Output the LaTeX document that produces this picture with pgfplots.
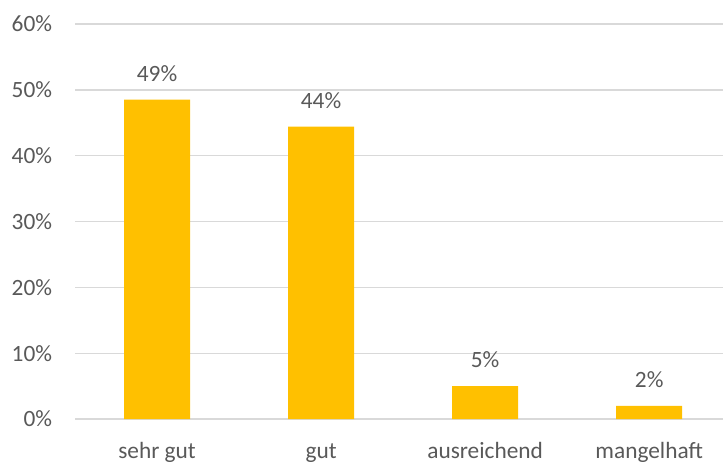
\documentclass[border=0pt]{standalone}
\usepackage{fontspec}
\setmainfont{Carlito}
\usepackage{pgfplots}
\pgfplotsset{compat=1.18}
\definecolor{barc}{HTML}{FFC000}
\definecolor{txt}{HTML}{595959}
\definecolor{gridc}{HTML}{D9D9D9}
\begin{document}
\begin{tikzpicture}
\useasboundingbox (-56.25pt,-32.25pt) rectangle (486pt,314.25pt);
\begin{axis}[
  at={(0pt,0pt)}, anchor=south west,
  scale only axis, width=486pt, height=296.25pt,
  xmin=-0.5, xmax=3.45, ymin=0, ymax=60,
  ytick={0,10,20,30,40,50,60},
  yticklabels={0\%,10\%,20\%,30\%,40\%,50\%,60\%},
  xtick={0,1,2,3},
  xticklabels={sehr gut,gut,ausreichend,mangelhaft},
  ymajorgrids, grid style={gridc, line width=1pt},
  axis line style={draw=none}, tick style={draw=none},
  ticklabel style={font=\fontsize{17.5}{21}\selectfont, text=txt, inner sep=0pt},
  xticklabel style={anchor=base, yshift=-25.5pt},
  yticklabel style={anchor=east, xshift=-17pt},
  ybar, bar width=49.5pt, bar shift=0pt,
  nodes near coords, point meta=explicit symbolic,
  every node near coord/.append style={anchor=base, inner sep=0pt, yshift=14pt, font=\fontsize{17.5}{21}\selectfont, text=txt},
]
\addplot[fill=barc, draw=none] coordinates {(0,48.5)[49\%] (1,44.4)[44\%] (2,5.0)[5\%] (3,2.0)[2\%]};
\end{axis}
\end{tikzpicture}
\end{document}
